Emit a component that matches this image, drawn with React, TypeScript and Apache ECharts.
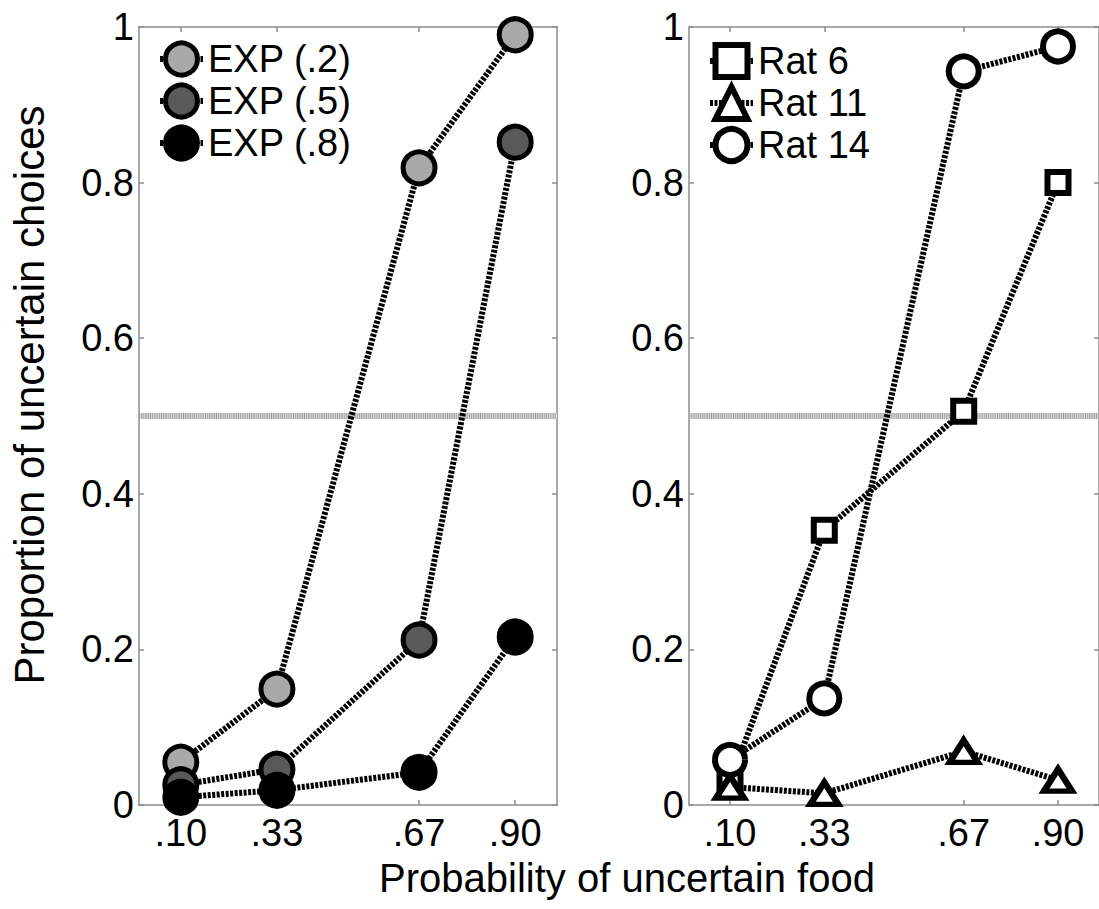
import React, { useEffect, useRef } from 'react';
import * as echarts from 'echarts';

// ---- data ----
const probabilities = [0.10, 0.33, 0.67, 0.90];
const probabilityLabels = ['.10', '.33', '.67', '.90'];
const yTickLabels = ['0', '0.2', '0.4', '0.6', '0.8', '1'];

const exp02 = [0.055, 0.149, 0.819, 0.990];
const exp05 = [0.026, 0.046, 0.212, 0.852];
const exp08 = [0.010, 0.019, 0.042, 0.216];

const rat6 = [0.030, 0.353, 0.506, 0.800];
const rat11 = [0.023, 0.015, 0.069, 0.032];
const rat14 = [0.058, 0.137, 0.943, 0.975];

const criterionX = [0, 1];
const criterionY = [0.5, 0.5];

const leftNames = ['EXP (.2)', 'EXP (.5)', 'EXP (.8)'];
const rightNames = ['Rat 6', 'Rat 11', 'Rat 14'];

const FONT = '"Liberation Sans", Arial, Helvetica, sans-serif';
const AXIS = '#8c8c8c';

function pairs(xs: number[], ys: number[]) {
  return xs.map((x, i) => [x, ys[i]]);
}

function xAxisPair(gridIndex: number) {
  const base = {
    type: 'value',
    gridIndex,
    min: 0,
    max: 1,
    splitLine: { show: false },
    axisLine: { show: true, onZero: false, lineStyle: { color: AXIS, width: 1.5 } },
    axisTick: {
      show: true,
      inside: true,
      length: 5,
      customValues: probabilities,
      lineStyle: { color: AXIS, width: 1.5 },
    },
  };
  return [
    {
      ...base,
      position: 'bottom',
      axisLabel: {
        show: true,
        customValues: probabilities,
        formatter: (v: number) => {
          const i = probabilities.findIndex((p) => Math.abs(p - v) < 1e-6);
          return i >= 0 ? probabilityLabels[i] : '';
        },
        margin: 9,
        color: '#000',
        fontSize: 38,
        fontFamily: FONT,
      },
    },
    { ...base, position: 'top', axisLabel: { show: false } },
  ];
}

function yAxisPair(gridIndex: number) {
  const base = {
    type: 'value',
    gridIndex,
    min: 0,
    max: 1,
    interval: 0.2,
    splitLine: { show: false },
    axisLine: { show: true, onZero: false, lineStyle: { color: AXIS, width: 1.5 } },
    axisTick: { show: true, inside: true, length: 5, lineStyle: { color: AXIS, width: 1.5 } },
  };
  return [
    {
      ...base,
      position: 'left',
      axisLabel: {
        show: true,
        formatter: (v: number) => yTickLabels[Math.round(v / 0.2)] ?? '',
        margin: 5,
        color: '#000',
        fontSize: 38,
        fontFamily: FONT,
      },
    },
    { ...base, position: 'right', axisLabel: { show: false } },
  ];
}

const LINE_W = 6;
const dataLine = { color: '#000', width: LINE_W, type: [3, 1.5], cap: 'butt' };

function criterionSeries(xi: number, yi: number) {
  return [
    {
      type: 'line',
      name: 'criterion-base',
      xAxisIndex: xi,
      yAxisIndex: yi,
      data: pairs(criterionX, criterionY),
      symbol: 'none',
      silent: true,
      z: 1,
      lineStyle: { color: '#d6d6d6', width: 6, type: 'solid' },
    },
    {
      type: 'line',
      name: 'criterion-stripe',
      xAxisIndex: xi,
      yAxisIndex: yi,
      data: pairs(criterionX, criterionY),
      symbol: 'none',
      silent: true,
      z: 1,
      lineStyle: { color: '#a4a4a4', width: 6, type: [1, 1.2] },
    },
  ];
}

function dataSeries(
  name: string,
  xi: number,
  yi: number,
  ys: number[],
  symbol: string,
  size: number | number[],
  fill: string,
  border: number
) {
  return {
    type: 'line',
    name,
    xAxisIndex: xi,
    yAxisIndex: yi,
    data: pairs(probabilities, ys),
    symbol,
    symbolSize: size,
    showAllSymbol: true,
    clip: false,
    z: 3,
    lineStyle: dataLine,
    itemStyle: { color: fill, borderColor: '#000', borderWidth: border, opacity: 1 },
    emphasis: { disabled: true },
  };
}

export default function App() {
  const ref = useRef<HTMLDivElement>(null);

  useEffect(() => {
    if (!ref.current) return;
    const chart = echarts.init(ref.current, undefined, { renderer: 'svg' });
    const legendCommon = {
      orient: 'vertical',
      itemWidth: 43,
      itemHeight: 40,
      itemGap: 4,
      padding: 0,
      selectedMode: false,
      textStyle: { fontSize: 38, color: '#000', fontFamily: FONT },
    };
    chart.setOption({
      animation: false,
      backgroundColor: '#fff',
      grid: [
        { left: 139, top: 27, width: 418, height: 778, containLabel: false },
        { left: 689, top: 27, width: 418, height: 778, containLabel: false },
      ],
      xAxis: [...xAxisPair(0), ...xAxisPair(1)],
      yAxis: [...yAxisPair(0), ...yAxisPair(1)],
      legend: [
        {
          ...legendCommon,
          data: leftNames,
          left: 157,
          top: 40,
          itemStyle: { borderWidth: 5, borderColor: '#000' },
          lineStyle: { width: LINE_W, color: '#000' },
        },
        {
          ...legendCommon,
          data: rightNames,
          left: 707,
          top: 42,
          itemStyle: { borderWidth: 6, borderColor: '#000' },
          lineStyle: { width: LINE_W, color: '#000' },
        },
      ],
      series: [
        ...criterionSeries(0, 0),
        dataSeries(leftNames[0], 0, 0, exp02, 'circle', 32, '#a9a9a9', 5),
        dataSeries(leftNames[1], 0, 0, exp05, 'circle', 32, '#595959', 5),
        dataSeries(leftNames[2], 0, 0, exp08, 'circle', 32, '#000000', 5),
        ...criterionSeries(2, 2),
        dataSeries(rightNames[0], 2, 2, rat6, 'rect', 21, '#ffffff', 6),
        dataSeries(rightNames[1], 2, 2, rat11, 'triangle', [28, 22], '#ffffff', 6),
        dataSeries(rightNames[2], 2, 2, rat14, 'circle', 30, '#ffffff', 6),
      ],
      graphic: [
        {
          type: 'text',
          x: 29,
          y: 395,
          rotation: Math.PI / 2,
          style: {
            text: 'Proportion of uncertain choices',
            fill: '#000',
            fontSize: 42,
            fontFamily: FONT,
            textAlign: 'center',
            textVerticalAlign: 'middle',
          },
        },
        {
          type: 'text',
          x: 627,
          y: 878,
          style: {
            text: 'Probability of uncertain food',
            fill: '#000',
            fontSize: 40,
            fontFamily: FONT,
            textAlign: 'center',
            textVerticalAlign: 'middle',
          },
        },
      ],
    });
    return () => chart.dispose();
  }, []);

  return (
    <div
      ref={ref}
      style={{ position: 'absolute', left: 0, top: 0, width: 1099, height: 909, background: '#fff' }}
    />
  );
}
